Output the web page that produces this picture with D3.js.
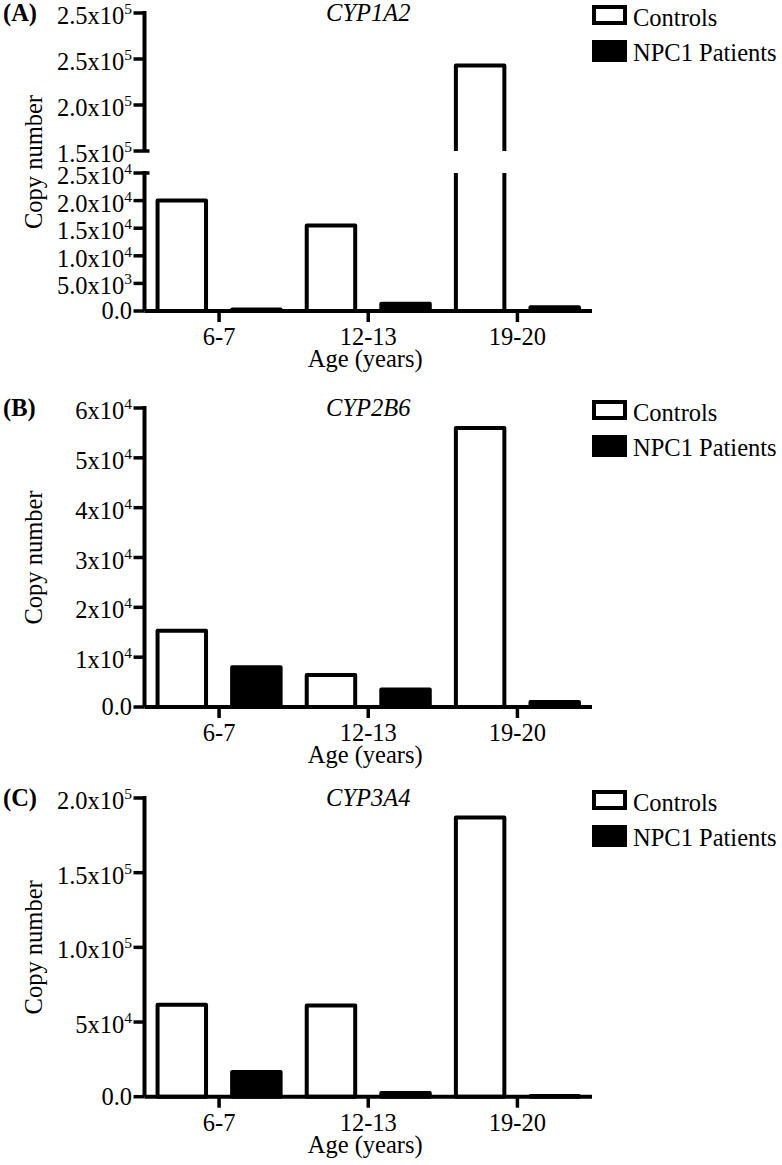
<!DOCTYPE html>
<html>
<head>
<meta charset="utf-8">
<script src="https://cdn.jsdelivr.net/npm/d3@7"></script>
<style>
  html, body { margin: 0; padding: 0; background: #fff; }
  svg { display: block; }
</style>
</head>
<body>
<svg id="chart" width="782" height="1165"></svg>
<script>
// ---------------- DATA ----------------
const categories = ["6-7", "12-13", "19-20"];
const seriesNames = ["Controls", "NPC1 Patients"];

const cyp1a2Controls = [20000, 15500, 243000];
const cyp1a2Patients = [250, 1300, 700];

const cyp2b6Controls = [15300, 6400, 56000];
const cyp2b6Patients = [8000, 3500, 1000];

const cyp3a4Controls = [61500, 61000, 187000];
const cyp3a4Patients = [16500, 2500, 500];

// tick values and labels ([mantissa, exponent])
const ticksA_low = [0, 5000, 10000, 15000, 20000, 25000];
const labelsA_low = [["0.0", ""], ["5.0x10", "3"], ["1.0x10", "4"], ["1.5x10", "4"], ["2.0x10", "4"], ["2.5x10", "4"]];
const ticksA_high = [150000, 200000, 250000, 300000];
const labelsA_high = [["1.5x10", "5"], ["2.0x10", "5"], ["2.5x10", "5"], ["2.5x10", "5"]];

const ticksB = [0, 10000, 20000, 30000, 40000, 50000, 60000];
const labelsB = [["0.0", ""], ["1x10", "4"], ["2x10", "4"], ["3x10", "4"], ["4x10", "4"], ["5x10", "4"], ["6x10", "4"]];

const ticksC = [0, 50000, 100000, 150000, 200000];
const labelsC = [["0.0", ""], ["5x10", "4"], ["1.0x10", "5"], ["1.5x10", "5"], ["2.0x10", "5"]];

const panelLetters = ["(A)", "(B)", "(C)"];
const geneTitles = ["CYP1A2", "CYP2B6", "CYP3A4"];
const yTitle = "Copy number";
const xTitle = "Age (years)";

// ---------------- LAYOUT ----------------
const FONT = "Liberation Serif";
const FS = 24.5;
const SUP = 15.5;
const AX = 144.5, AXR = 592;
const SW = 4;

const panels = [
  { letter: panelLetters[0], title: geneTitles[0], controls: cyp1a2Controls, patients: cyp1a2Patients,
    top: 13, bottom: 311, broken: true,
    low: { domain: [0, 25000], range: [311, 173], ticks: ticksA_low, labels: labelsA_low },
    high: { domain: [150000, 300000], range: [151, 13], ticks: ticksA_high, labels: labelsA_high } },
  { letter: panelLetters[1], title: geneTitles[1], controls: cyp2b6Controls, patients: cyp2b6Patients,
    top: 408, bottom: 707, broken: false,
    low: { domain: [0, 60000], range: [707, 408], ticks: ticksB, labels: labelsB } },
  { letter: panelLetters[2], title: geneTitles[2], controls: cyp3a4Controls, patients: cyp3a4Patients,
    top: 798, bottom: 1096.7, broken: false,
    low: { domain: [0, 200000], range: [1096.7, 798], ticks: ticksC, labels: labelsC } }
];

const svg = d3.select("#chart");

const x = d3.scaleBand().domain(categories).range([AX, AXR]).paddingInner(0).paddingOuter(0);
const xSub = d3.scaleBand().domain(seriesNames).range([0, x.bandwidth()]).paddingInner(0.35).paddingOuter(0.175);

function txt(g) {
  return g.append("text").attr("font-family", FONT).attr("fill", "#000").attr("font-size", FS);
}

function tickLabel(g, yPos, lab) {
  const t = txt(g)
    .attr("x", 132)
    .attr("y", yPos + (lab[1] ? 11 : 8))
    .attr("text-anchor", "end");
  t.append("tspan").text(lab[0]);
  if (lab[1]) {
    t.append("tspan").attr("font-size", SUP).attr("dy", -10).text(lab[1]);
  }
}

panels.forEach((p) => {
  const g = svg.append("g");
  const yLow = d3.scaleLinear().domain(p.low.domain).range(p.low.range);
  const yHigh = p.broken ? d3.scaleLinear().domain(p.high.domain).range(p.high.range) : null;
  const y0 = yLow(0);
  const lowTop = p.low.range[1];

  // bars
  categories.forEach((c, i) => {
    [[seriesNames[0], p.controls[i], "#fff"], [seriesNames[1], p.patients[i], "#000"]].forEach(([s, v, fill]) => {
      const x0 = x(c) + xSub(s);
      const x1 = x0 + xSub.bandwidth();
      if (p.broken && v > p.low.domain[1]) {
        const yb = p.high.range[0];
        const yt = yHigh(v);
        g.append("path")
          .attr("d", `M${x0},${yb}L${x0},${yt}L${x1},${yt}L${x1},${yb}`)
          .attr("fill", fill).attr("stroke", "#000").attr("stroke-width", SW)
          .attr("stroke-linejoin", "round");
        g.append("path")
          .attr("d", `M${x0},${lowTop}L${x0},${y0}M${x1},${lowTop}L${x1},${y0}`)
          .attr("fill", "none").attr("stroke", "#000").attr("stroke-width", SW);
      } else {
        const yv = yLow(v);
        g.append("rect")
          .attr("x", x0).attr("y", yv)
          .attr("width", x1 - x0).attr("height", Math.max(0, y0 - yv))
          .attr("fill", fill).attr("stroke", "#000").attr("stroke-width", SW)
          .attr("stroke-linejoin", "round");
      }
    });
  });

  // y axis low segment
  g.append("line").attr("x1", AX).attr("x2", AX).attr("y1", lowTop - SW / 2).attr("y2", y0)
    .attr("stroke", "#000").attr("stroke-width", SW);
  p.low.ticks.forEach((t, i) => {
    const yy = yLow(t);
    const ext = (p.broken && i === p.low.ticks.length - 1) ? 5 : 0;
    g.append("line").attr("x1", 133.5).attr("x2", AX + ext).attr("y1", yy).attr("y2", yy)
      .attr("stroke", "#000").attr("stroke-width", SW - 0.5);
    tickLabel(g, yy, p.low.labels[i]);
  });
  if (p.broken) {
    const hb = p.high.range[0];
    g.append("line").attr("x1", AX).attr("x2", AX).attr("y1", p.high.range[1] - SW / 2).attr("y2", hb)
      .attr("stroke", "#000").attr("stroke-width", SW);
    p.high.ticks.forEach((t, i) => {
      const yy = yHigh(t);
      const ext = i === 0 ? 5 : 0;
      g.append("line").attr("x1", 133.5).attr("x2", AX + ext).attr("y1", yy).attr("y2", yy)
        .attr("stroke", "#000").attr("stroke-width", SW - 0.5);
      tickLabel(g, yy, p.high.labels[i]);
    });
  }

  // x axis
  g.append("line").attr("x1", AX).attr("x2", AXR).attr("y1", y0).attr("y2", y0)
    .attr("stroke", "#000").attr("stroke-width", SW);
  categories.forEach((c) => {
    const cx = x(c) + x.bandwidth() / 2;
    g.append("line").attr("x1", cx).attr("x2", cx).attr("y1", y0).attr("y2", y0 + 11)
      .attr("stroke", "#000").attr("stroke-width", SW - 0.5);
    txt(g).attr("x", cx).attr("y", y0 + 34).attr("text-anchor", "middle").text(c);
  });
  txt(g).attr("x", (AX + AXR) / 2 - 3).attr("y", y0 + 56).attr("text-anchor", "middle").text(xTitle);

  // y title
  const cy = (p.top + p.bottom) / 2;
  txt(g).attr("transform", `translate(41.5,${cy}) rotate(-90)`)
    .attr("text-anchor", "middle").text(yTitle);

  // panel letter
  txt(g).attr("x", 3).attr("y", p.top + 8).attr("font-weight", "bold").text(p.letter);

  // gene title
  txt(g).attr("x", (AX + AXR) / 2).attr("y", p.top + 7.5).attr("text-anchor", "middle")
    .attr("font-style", "italic").text(p.title);

  // legend
  const ly = p.top - 8;
  g.append("rect").attr("x", 594).attr("y", ly + 2).attr("width", 31).attr("height", 16)
    .attr("fill", "#fff").attr("stroke", "#000").attr("stroke-width", SW);
  txt(g).attr("x", 633).attr("y", ly + 21).text(seriesNames[0]);
  g.append("rect").attr("x", 592).attr("y", ly + 35).attr("width", 35).attr("height", 22)
    .attr("fill", "#000");
  txt(g).attr("x", 633).attr("y", ly + 56).text(seriesNames[1]);
});
</script>
</body>
</html>
